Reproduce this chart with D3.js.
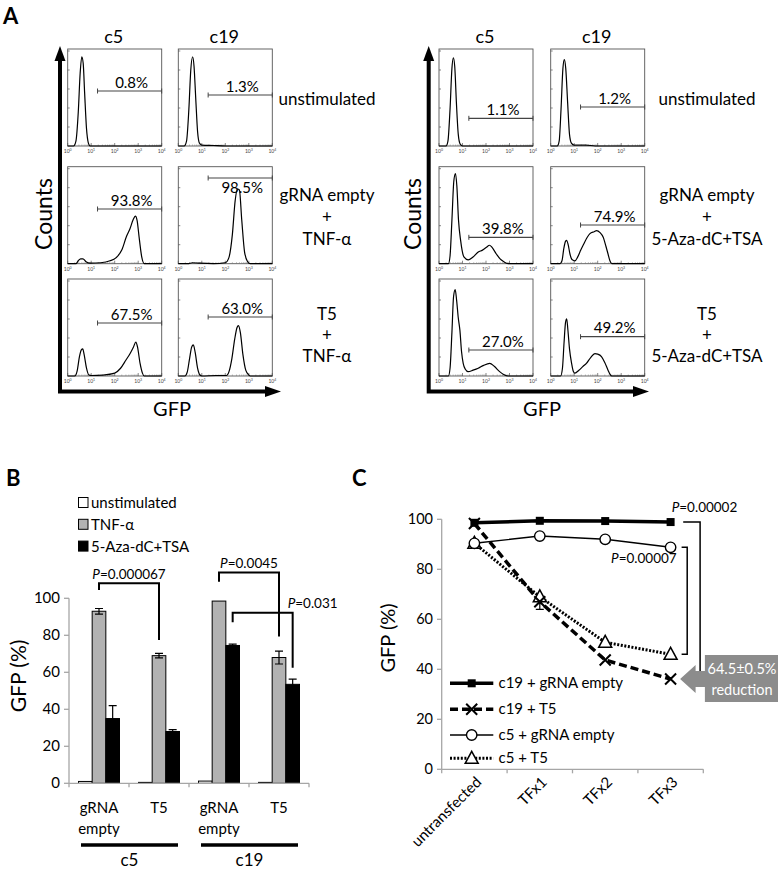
<!DOCTYPE html>
<html lang="en">
<head>
<meta charset="UTF-8">
<title>GFP reactivation</title>
<script src="https://d3js.org/d3.v7.min.js"></script>
<style>
  body { margin: 0; background: #fff; }
  svg { font-family: Lato, "Open Sans", sans-serif; }
</style>
</head>
<body>
<svg width="783" height="871"></svg>
<script>
// ---------- panel A data ----------
const flowClones = ["c5", "c19"];
const rowLabelsTNF = [["unstimulated"], ["gRNA empty", "+", "TNF-α"], ["T5", "+", "TNF-α"]];
const rowLabelsAza = [["unstimulated"], ["gRNA empty", "+", "5-Aza-dC+TSA"], ["T5", "+", "5-Aza-dC+TSA"]];
const gateTNF = [["0.8%", "1.3%"], ["93.8%", "98.5%"], ["67.5%", "63.0%"]];
const gateAza = [["1.1%", "1.2%"], ["39.8%", "74.9%"], ["27.0%", "49.2%"]];
const decades = [0, 1, 2, 3, 4];

// histograms: [log10 GFP, counts as fraction of box height]
const histTNF = [
  [
    [[0,0],[0.25,0],[0.35,0.05],[0.45,0.35],[0.53,0.75],[0.6,0.92],[0.66,0.85],[0.72,0.55],[0.8,0.18],[0.88,0.03],[0.95,0],[4,0]],
    [[0,0],[0.25,0],[0.35,0.05],[0.45,0.38],[0.53,0.78],[0.61,0.92],[0.67,0.82],[0.74,0.5],[0.82,0.15],[0.9,0.03],[1.0,0.01],[1.5,0.005],[2,0],[4,0]]
  ],
  [
    [[0,0],[0.35,0],[0.45,0.03],[0.55,0.05],[0.65,0.05],[0.78,0.02],[0.95,0.005],[1.4,0.01],[1.8,0.03],[2.05,0.06],[2.3,0.14],[2.5,0.28],[2.65,0.36],[2.78,0.45],[2.88,0.49],[2.95,0.45],[3.05,0.25],[3.15,0.07],[3.26,0],[4,0]],
    [[0,0],[0.4,0],[0.6,0.01],[0.9,0.005],[1.5,0],[2.0,0.01],[2.15,0.06],[2.3,0.3],[2.42,0.65],[2.52,0.77],[2.6,0.76],[2.7,0.45],[2.82,0.12],[2.95,0.02],[3.06,0],[4,0]]
  ],
  [
    [[0,0],[0.3,0],[0.4,0.05],[0.5,0.2],[0.58,0.27],[0.64,0.28],[0.7,0.22],[0.8,0.08],[0.9,0.01],[1.0,0.005],[1.5,0.01],[2.0,0.03],[2.25,0.08],[2.48,0.165],[2.65,0.23],[2.8,0.3],[2.9,0.35],[2.97,0.3],[3.08,0.13],[3.18,0.03],[3.26,0],[4,0]],
    [[0,0],[0.28,0],[0.38,0.04],[0.48,0.18],[0.57,0.3],[0.64,0.32],[0.72,0.24],[0.82,0.08],[0.92,0.01],[1.0,0],[1.6,0.005],[2.05,0.005],[2.15,0.04],[2.28,0.18],[2.4,0.38],[2.5,0.5],[2.56,0.52],[2.64,0.45],[2.75,0.22],[2.87,0.06],[3.0,0.01],[3.06,0],[4,0]]
  ]
];
const histAza = [
  [
    [[0,0],[0.3,0],[0.38,0.05],[0.47,0.38],[0.55,0.8],[0.61,0.91],[0.67,0.82],[0.74,0.45],[0.82,0.12],[0.9,0.02],[1.0,0],[4,0]],
    [[0,0],[0.28,0],[0.36,0.05],[0.44,0.38],[0.52,0.8],[0.58,0.89],[0.64,0.8],[0.72,0.45],[0.8,0.12],[0.88,0.03],[1.0,0.01],[1.5,0.01],[1.9,0],[4,0]]
  ],
  [
    [[0,0],[0.4,0],[0.47,0.08],[0.55,0.45],[0.63,0.85],[0.7,0.93],[0.76,0.8],[0.83,0.45],[0.92,0.24],[1.06,0.07],[1.24,0.04],[1.45,0.07],[1.67,0.12],[1.85,0.14],[2.02,0.17],[2.15,0.19],[2.25,0.17],[2.44,0.1],[2.6,0.05],[2.73,0.025],[2.94,0],[4,0]],
    [[0,0],[0.4,0],[0.48,0.03],[0.56,0.16],[0.63,0.23],[0.68,0.24],[0.74,0.2],[0.82,0.1],[0.92,0.04],[1.03,0.03],[1.15,0.07],[1.28,0.14],[1.4,0.2],[1.55,0.27],[1.67,0.31],[1.85,0.33],[1.95,0.34],[2.1,0.32],[2.23,0.275],[2.35,0.18],[2.44,0.1],[2.52,0.03],[2.6,0],[4,0]]
  ],
  [
    [[0,0],[0.4,0],[0.47,0.08],[0.55,0.45],[0.62,0.82],[0.69,0.89],[0.75,0.78],[0.82,0.6],[0.89,0.47],[0.96,0.25],[1.03,0.13],[1.12,0.07],[1.24,0.045],[1.45,0.06],[1.67,0.08],[1.9,0.11],[2.16,0.13],[2.35,0.1],[2.58,0.045],[2.75,0.015],[2.94,0],[4,0]],
    [[0,0],[0.42,0],[0.5,0.08],[0.57,0.35],[0.63,0.55],[0.68,0.59],[0.73,0.48],[0.8,0.28],[0.89,0.13],[0.96,0.05],[1.03,0.03],[1.2,0.06],[1.38,0.1],[1.52,0.13],[1.7,0.19],[1.88,0.23],[2.0,0.225],[2.16,0.2],[2.3,0.14],[2.44,0.06],[2.52,0.02],[2.6,0],[4,0]]
  ]
];

// ---------- panel B data ----------
const bGroupLines = [["gRNA", "empty"], ["T5"], ["gRNA", "empty"], ["T5"]];
const bClones = ["c5", "c19"];
const bSeries = ["unstimulated", "TNF-α", "5-Aza-dC+TSA"];
const bUnstim = [1.0, 0.5, 1.2, 0.5];
const bTNF = [93, 69, 98.5, 68];
const bTNFerr = [1.5, 1.2, 0, 3.5];
const bAza = [35, 28, 74.5, 53.5];
const bAzaErr = [7, 1, 0.7, 2.8];
const bTicks = [0, 20, 40, 60, 80, 100];
const bPvals = ["0.000067", "0.0045", "0.031"];

// ---------- panel C data ----------
const cCats = ["untransfected", "TFx1", "TFx2", "TFx3"];
const cSeriesNames = ["c19 + gRNA empty", "c19 + T5", "c5 + gRNA empty", "c5 + T5"];
const c19Empty = [98.6, 99.4, 99.3, 98.9];
const c19T5 = [98.3, 67, 43.7, 36.1];
const c19T5err = [0, 3, 0, 0];
const c5Empty = [90.4, 93.3, 92, 88.8];
const c5T5 = [90.4, 69, 50.8, 46];
const cTicks = [0, 20, 40, 60, 80, 100];
const cPvals = ["0.00002", "0.00007"];
const cReduction = ["64.5±0.5%", "reduction"];

const svg = d3.select("svg");

// ================= PANEL A =================
const boxW = 94, boxH = 97;
const rowTops = [49, 166.7, 279];
const rowBaselines = [[104.5], [201, 223, 245], [320, 341, 362]];
const axisY = 391.5;

const flowPanels = [
  { colX: [67.7, 178.3], hist: histTNF, pct: gateTNF, rows: rowLabelsTNF,
    gateY: [[91, 95], [209, 178], [323, 317]], below: [[0, 0], [0, 1], [0, 0]],
    axisX: 60, axisEnd: 281, labelX: 327, countsX: 44, gfpX: 172 },
  { colX: [439, 550.7], hist: histAza, pct: gateAza, rows: rowLabelsAza,
    gateY: [[118.3, 107], [237.3, 225], [350, 336.7]], below: [[0, 0], [0, 0], [0, 0]],
    axisX: 428.7, axisEnd: 649, labelX: 707, countsX: 413, gfpX: 542 }
];

svg.append("text").attr("x", 3).attr("y", 24).attr("font-size", 22)
   .attr("font-weight", "bold").text("A");

flowPanels.forEach(p => {
  p.colX.forEach((cx, ci) => {
    const x = d3.scaleLinear().domain([0, 4]).range([cx, cx + boxW]);
    svg.append("text").attr("x", cx + 46).attr("y", 43)
       .attr("text-anchor", "middle").attr("font-size", 18).text(flowClones[ci]);

    rowTops.forEach((top, ri) => {
      const bottom = top + boxH;
      const y = d3.scaleLinear().domain([0, 1]).range([bottom, top]);
      const g = svg.append("g");

      g.append("rect").attr("x", cx).attr("y", top).attr("width", boxW).attr("height", boxH)
       .attr("fill", "none").attr("stroke", "#555").attr("stroke-width", 0.9);

      // left ticks
      d3.range(1, 6).forEach(k => {
        g.append("line").attr("x1", cx).attr("x2", cx + 2)
         .attr("y1", bottom - k * 19).attr("y2", bottom - k * 19)
         .attr("stroke", "#555").attr("stroke-width", 0.7);
      });
      // log ticks along bottom
      decades.slice(0, 4).forEach(d => {
        d3.range(2, 10).forEach(m => {
          const xx = x(d + Math.log10(m));
          g.append("line").attr("x1", xx).attr("x2", xx).attr("y1", bottom).attr("y2", bottom - 1.5)
           .attr("stroke", "#777").attr("stroke-width", 0.5);
        });
      });
      decades.forEach(d => {
        g.append("line").attr("x1", x(d)).attr("x2", x(d)).attr("y1", bottom).attr("y2", bottom - 3)
         .attr("stroke", "#555").attr("stroke-width", 0.7);
        const t = g.append("text").attr("x", x(d)).attr("y", bottom + 7)
          .attr("text-anchor", "middle").attr("font-size", 5).attr("fill", "#444");
        t.append("tspan").text("10");
        t.append("tspan").attr("dy", -2).attr("font-size", 3.5).text(d);
      });

      const line = d3.line().x(d => x(d[0])).y(d => y(d[1])).curve(d3.curveMonotoneX);
      g.append("path").datum(p.hist[ri][ci]).attr("d", line)
       .attr("fill", "none").attr("stroke", "#000").attr("stroke-width", 1.2);

      // gate marker
      const gy = p.gateY[ri][ci];
      const gx0 = x(1.27), gx1 = x(4);
      g.append("line").attr("x1", gx0).attr("x2", gx1).attr("y1", gy).attr("y2", gy)
       .attr("stroke", "#444").attr("stroke-width", 1.2);
      [gx0, gx1].forEach(xx => g.append("line").attr("x1", xx).attr("x2", xx)
        .attr("y1", gy - 2.5).attr("y2", gy + 2.5).attr("stroke", "#444").attr("stroke-width", 1));
      g.append("text").attr("x", (gx0 + gx1) / 2 + 2)
       .attr("y", p.below[ri][ci] ? gy + 15 : gy - 3.5)
       .attr("text-anchor", "middle").attr("font-size", 15).text(p.pct[ri][ci]);
    });
  });

  // row labels
  p.rows.forEach((lines, ri) => {
    lines.forEach((s, li) => {
      svg.append("text").attr("x", p.labelX).attr("y", rowBaselines[ri][li])
         .attr("text-anchor", "middle").attr("font-size", 17).text(s);
    });
  });

  // axes arrows
  svg.append("path")
     .attr("d", `M${p.axisX},58 V${axisY} H${p.axisEnd - 14}`)
     .attr("fill", "none").attr("stroke", "#000").attr("stroke-width", 4);
  svg.append("path")
     .attr("d", `M${p.axisX},46 L${p.axisX - 5.5},61 L${p.axisX + 5.5},61 Z`).attr("fill", "#000");
  svg.append("path")
     .attr("d", `M${p.axisEnd},${axisY} L${p.axisEnd - 16},${axisY - 5.5} L${p.axisEnd - 16},${axisY + 5.5} Z`)
     .attr("fill", "#000");

  svg.append("text").attr("transform", `translate(${p.countsX + 8},214) rotate(-90)`)
     .attr("text-anchor", "middle").attr("font-size", 23).text("Counts");
  svg.append("text").attr("x", p.gfpX).attr("y", 416)
     .attr("text-anchor", "middle").attr("font-size", 20).text("GFP");
});

// ================= PANEL B =================
svg.append("text").attr("x", 6).attr("y", 486).attr("font-size", 22)
   .attr("font-weight", "bold").text("B");

const bY = d3.scaleLinear().domain([0, 100]).range([783.3, 598.3]);
const bX = d3.scaleBand().domain(d3.range(4)).range([69, 309]);
const bSub = d3.scaleBand().domain(bSeries).range([9.5, 50.5]);
const bFill = { "unstimulated": "#fff", "TNF-α": "#b2b2b2", "5-Aza-dC+TSA": "#000" };
const axisGray = "#a6a6a6";

// y axis
svg.append("line").attr("x1", 69).attr("x2", 69).attr("y1", bY(0)).attr("y2", bY(100))
   .attr("stroke", axisGray).attr("stroke-width", 1.3);
bTicks.forEach(t => {
  svg.append("line").attr("x1", 64).attr("x2", 69).attr("y1", bY(t)).attr("y2", bY(t))
     .attr("stroke", axisGray).attr("stroke-width", 1.3);
  svg.append("text").attr("x", 60).attr("y", bY(t) + 5).attr("text-anchor", "end")
     .attr("font-size", 15).text(t);
});
svg.append("text").attr("transform", "translate(26,676) rotate(-90)")
   .attr("text-anchor", "middle").attr("font-size", 21).text("GFP (%)");

// bars
const bData = d3.range(4).flatMap(i => [
  { g: i, s: bSeries[0], v: bUnstim[i], e: 0 },
  { g: i, s: bSeries[1], v: bTNF[i], e: bTNFerr[i] },
  { g: i, s: bSeries[2], v: bAza[i], e: bAzaErr[i] }
]);
svg.selectAll("rect.bar").data(bData).enter().append("rect")
   .attr("class", "bar")
   .attr("x", d => bX(d.g) + bSub(d.s))
   .attr("y", d => bY(d.v))
   .attr("width", bSub.bandwidth())
   .attr("height", d => bY(0) - bY(d.v))
   .attr("fill", d => bFill[d.s]).attr("stroke", "#000").attr("stroke-width", 1);
bData.filter(d => d.e > 0).forEach(d => {
  const cx = bX(d.g) + bSub(d.s) + bSub.bandwidth() / 2;
  svg.append("path")
     .attr("d", `M${cx},${bY(d.v - d.e)} V${bY(d.v + d.e)} M${cx - 4},${bY(d.v + d.e)} H${cx + 4} M${cx - 4},${bY(d.v - d.e)} H${cx + 4}`)
     .attr("stroke", "#000").attr("stroke-width", 1.2).attr("fill", "none");
});

// x axis
svg.append("line").attr("x1", 69).attr("x2", 309).attr("y1", bY(0)).attr("y2", bY(0))
   .attr("stroke", axisGray).attr("stroke-width", 1.3);
[0, 1, 2, 3, 4].forEach(i => {
  const xx = 69 + i * bX.bandwidth();
  svg.append("line").attr("x1", xx).attr("x2", xx).attr("y1", bY(0)).attr("y2", bY(0) + 4)
     .attr("stroke", axisGray).attr("stroke-width", 1.3);
});
bGroupLines.forEach((lines, i) => {
  lines.forEach((s, li) => {
    svg.append("text").attr("x", bX(i) + 30).attr("y", 813 + li * 21)
       .attr("text-anchor", "middle").attr("font-size", 15).text(s);
  });
});
bClones.forEach((c, k) => {
  const x0 = bX(k * 2) + 12, x1 = bX(k * 2 + 1) + 49;
  svg.append("line").attr("x1", x0).attr("x2", x1).attr("y1", 845).attr("y2", 845)
     .attr("stroke", "#000").attr("stroke-width", 3.5);
  svg.append("text").attr("x", (x0 + x1) / 2).attr("y", 866)
     .attr("text-anchor", "middle").attr("font-size", 17).text(c);
});

// legend
bSeries.forEach((s, i) => {
  const yy = 503 + i * 21.8;
  svg.append("rect").attr("x", 78.5).attr("y", yy - 5.5).attr("width", 9.5).attr("height", 10)
     .attr("fill", bFill[s]).attr("stroke", "#000").attr("stroke-width", 1);
  svg.append("text").attr("x", 91).attr("y", yy + 5).attr("font-size", 15).text(s);
});

// significance brackets: [group a, series, group b, series, top, left bottom, right bottom]
const bBrackets = [
  [0, 1, 1, 1, 108.1, 104.5, 77.5],
  [2, 1, 3, 1, 114, 109, 79.3],
  [2, 2, 3, 2, 92.2, 87.1, 62.4]
];
bBrackets.forEach((b, i) => {
  const xa = bX(b[0]) + bSub(bSeries[b[1]]) + bSub.bandwidth() / 2;
  const xb = bX(b[2]) + bSub(bSeries[b[3]]) + bSub.bandwidth() / 2;
  svg.append("path")
     .attr("d", `M${xa},${bY(b[5])} V${bY(b[4])} H${xb} V${bY(b[6])}`)
     .attr("fill", "none").attr("stroke", "#000").attr("stroke-width", 2);
  const t = svg.append("text").attr("font-size", 13.5).attr("y", bY(b[4]) - 4.5);
  if (i < 2) t.attr("x", (xa + xb) / 2).attr("text-anchor", "middle");
  else t.attr("x", xb - 5);
  t.append("tspan").attr("font-style", "italic").text("P");
  t.append("tspan").text("=" + bPvals[i]);
});

// ================= PANEL C =================
svg.append("text").attr("x", 352).attr("y", 486).attr("font-size", 22)
   .attr("font-weight", "bold").text("C");

const cY = d3.scaleLinear().domain([0, 100]).range([769.3, 519.3]);
const cX = d3.scaleBand().domain(cCats).range([441.7, 703.3]);
const cxOf = c => cX(c) + cX.bandwidth() / 2;

svg.append("line").attr("x1", 441.7).attr("x2", 441.7).attr("y1", cY(0)).attr("y2", cY(100))
   .attr("stroke", axisGray).attr("stroke-width", 1.3);
cTicks.forEach(t => {
  svg.append("line").attr("x1", 437).attr("x2", 441.7).attr("y1", cY(t)).attr("y2", cY(t))
     .attr("stroke", axisGray).attr("stroke-width", 1.3);
  svg.append("text").attr("x", 433).attr("y", cY(t) + 5).attr("text-anchor", "end")
     .attr("font-size", 14.5).text(t);
});
svg.append("line").attr("x1", 441.7).attr("x2", 703.3).attr("y1", cY(0)).attr("y2", cY(0))
   .attr("stroke", axisGray).attr("stroke-width", 1.3);
d3.range(5).forEach(i => {
  const xx = 441.7 + i * cX.bandwidth();
  svg.append("line").attr("x1", xx).attr("x2", xx).attr("y1", cY(0)).attr("y2", cY(0) + 4)
     .attr("stroke", axisGray).attr("stroke-width", 1.3);
});
cCats.forEach(c => {
  svg.append("text").attr("transform", `translate(${cxOf(c) + 8},783) rotate(-45)`)
     .attr("text-anchor", "end").attr("font-size", 15).text(c);
});
svg.append("text").attr("transform", "translate(395,638) rotate(-90)")
   .attr("text-anchor", "middle").attr("font-size", 20).text("GFP (%)");

const cStyles = [
  { vals: c19Empty, w: 3.5, dash: null, marker: "square" },
  { vals: c19T5, w: 3.5, dash: "8,4", marker: "x" },
  { vals: c5Empty, w: 1.4, dash: null, marker: "circle" },
  { vals: c5T5, w: 3, dash: "2,1.6", marker: "triangle" }
];

function drawMarker(kind, x, y) {
  if (kind === "square") {
    svg.append("rect").attr("x", x - 4).attr("y", y - 4).attr("width", 8).attr("height", 8).attr("fill", "#000");
  } else if (kind === "x") {
    svg.append("path").attr("d", `M${x - 5.5},${y - 5.5} L${x + 5.5},${y + 5.5} M${x - 5.5},${y + 5.5} L${x + 5.5},${y - 5.5}`)
       .attr("stroke", "#000").attr("stroke-width", 2);
  } else if (kind === "circle") {
    svg.append("circle").attr("cx", x).attr("cy", y).attr("r", 5.2).attr("fill", "#fff")
       .attr("stroke", "#000").attr("stroke-width", 1.4);
  } else {
    svg.append("path").attr("d", `M${x},${y - 7} L${x + 6.5},${y + 5} L${x - 6.5},${y + 5} Z`)
       .attr("fill", "#fff").attr("stroke", "#000").attr("stroke-width", 1.5);
  }
}

const cLine = d3.line().x((d, i) => cxOf(cCats[i])).y(d => cY(d));
// thin lines first, thick ones on top, markers last
[3, 2, 1, 0].forEach(k => {
  const s = cStyles[k];
  svg.append("path").datum(s.vals).attr("d", cLine)
     .attr("fill", "none").attr("stroke", "#000").attr("stroke-width", s.w)
     .attr("stroke-dasharray", s.dash);
});
c19T5err.forEach((e, i) => {
  if (!e) return;
  const x = cxOf(cCats[i]);
  svg.append("path")
     .attr("d", `M${x},${cY(c19T5[i] - e)} V${cY(c19T5[i] + e)} M${x - 4},${cY(c19T5[i] - e)} H${x + 4}`)
     .attr("stroke", "#000").attr("stroke-width", 1.2);
});
[3, 2, 1, 0].forEach(k => {
  const s = cStyles[k];
  s.vals.forEach((v, i) => drawMarker(s.marker, cxOf(cCats[i]), cY(v)));
});

// legend
cSeriesNames.forEach((n, k) => {
  const yy = [683.3, 709.3, 735, 758.3][k];
  const s = cStyles[k];
  svg.append("line").attr("x1", 450).attr("x2", 493.3).attr("y1", yy).attr("y2", yy)
     .attr("stroke", "#000").attr("stroke-width", s.w).attr("stroke-dasharray", s.dash);
  drawMarker(s.marker, 471.7, yy);
  svg.append("text").attr("x", 498.5).attr("y", yy + 5).attr("font-size", 15).text(n);
});

// brackets at TFx3
const x3 = cxOf("TFx3");
svg.append("path")
   .attr("d", `M${x3 + 12.6},${cY(c19Empty[3])} H${x3 + 29.5} V${cY(c19T5[3])} H${x3 + 14}`)
   .attr("fill", "none").attr("stroke", "#000").attr("stroke-width", 1.5);
svg.append("path")
   .attr("d", `M${x3 + 11},${cY(c5Empty[3])} H${x3 + 16.6} V${cY(c5T5[3])} H${x3 + 11}`)
   .attr("fill", "none").attr("stroke", "#000").attr("stroke-width", 1.5);
const p1 = svg.append("text").attr("x", 671.7).attr("y", 512.3).attr("font-size", 13.5);
p1.append("tspan").attr("font-style", "italic").text("P");
p1.append("tspan").text("=" + cPvals[0]);
const p2 = svg.append("text").attr("x", 676.7).attr("y", 563.3).attr("font-size", 13.5).attr("text-anchor", "end");
p2.append("tspan").attr("font-style", "italic").text("P");
p2.append("tspan").text("=" + cPvals[1]);

// callout arrow
const yArrow = cY(c19T5[3]);
svg.append("path")
   .attr("d", `M${x3 + 9.5},${yArrow} L${x3 + 25},${yArrow - 14} L${x3 + 25},${yArrow - 8} L${x3 + 34.3},${yArrow - 8} L${x3 + 34.3},655 L778,655 L778,702 L${x3 + 34.3},702 L${x3 + 34.3},${yArrow + 8} L${x3 + 25},${yArrow + 8} L${x3 + 25},${yArrow + 14} Z`)
   .attr("fill", "#8c8c8c");
cReduction.forEach((s, i) => {
  svg.append("text").attr("x", 742).attr("y", 674 + i * 21).attr("text-anchor", "middle")
     .attr("font-size", 14.5).attr("fill", "#fff").text(s);
});
</script>
</body>
</html>
